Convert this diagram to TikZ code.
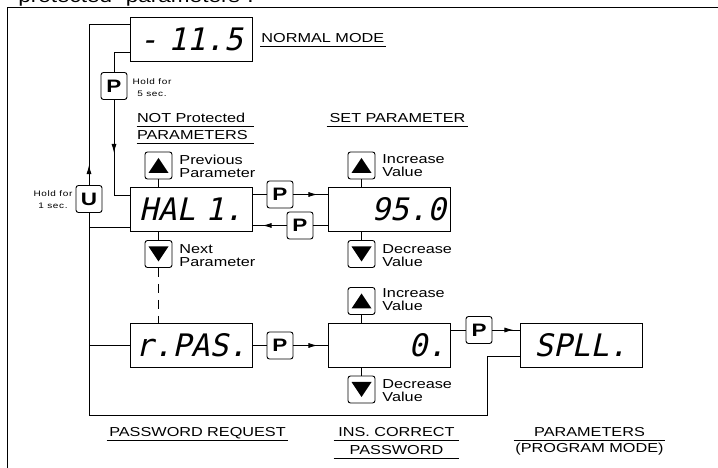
\documentclass[tikz,border=0pt]{standalone}
\usepackage{fontspec}
\setmainfont{Liberation Sans}[FakeStretch=1.25]
\newfontfamily\segfont{DejaVu Sans Mono}[FakeSlant=0.22]
\usetikzlibrary{arrows.meta,calc,decorations.markings}

\begin{document}
\begin{tikzpicture}[x=1pt,y=1pt,line width=0.9pt,
   every node/.style={font=\fontsize{13}{13}\selectfont,inner sep=0pt},
   disp/.style={draw,minimum height=44pt,text width=114pt,inner xsep=4pt,
     text height=23pt,text depth=0pt,align=center,
     font=\segfont\fontsize{31}{31}\selectfont},
   key/.style={draw,rounded corners=2.5pt,minimum width=26pt,minimum height=27pt,
     font=\fontsize{18}{18}\selectfont\bfseries},
   upkey/.style={draw,rounded corners=2.5pt,minimum size=27pt,
     path picture={\fill[sharp corners] ($(path picture bounding box.center)+(-10,-7.5)$)
       -- ++(20,0) -- ++(-10,15) -- cycle;}},
   downkey/.style={draw,rounded corners=2.5pt,minimum size=27pt,
     path picture={\fill[sharp corners] ($(path picture bounding box.center)+(-10,7.5)$)
       -- ++(20,0) -- ++(-10,-15) -- cycle;}},
   hint/.style={anchor=west,align=left},
   hold/.style={align=center,font=\fontsize{8}{12}\selectfont\addfontfeature{LetterSpace=8}},
   head/.style={anchor=base,text depth=3pt,align=center},
   arrowat/.style={postaction=decorate,decoration={markings,
     mark=at position #1 with {\arrow{Latex[length=9pt,width=5pt]}}}}]
  \useasboundingbox (0,0) rectangle (718,468);
  \node[anchor=base west,font=\fontsize{18}{18}\selectfont] (intro) at (18,465)
    {protected "parameters".};
  \draw (7,0) |- (718,461);

  \node[disp] (norm) at (191,429) {- 11.5};
  \node[disp] (hal) at (191,258.5) {HAL 1.};
  \node[disp,align=right] (setp) at (389,258.5) {95.0};
  \node[disp] (rpas) at (191,122.5) {r.PAS.};
  \node[disp,align=right] (ins) at (389,122.5) {0.};
  \node[disp] (spll) at (581,122.5) {SPLL.};

  \node[key] (p5) at (114,382) {P};
  \node[hold] (hold5) at (152,380) {Hold for\\5 sec.};
  \node[key] (u) at (89,269) {U};
  \node[hold] (hold1) at (53,268) {Hold for\\1 sec.};
  \node[key] (pfwd) at (280,273.5) {P};
  \node[key] (pback) at (300,242.5) {P};
  \node[key] (prpas) at (280,122.5) {P};
  \node[key] (pins) at (479,138) {P};

  \node[upkey] (prev) at (158.5,302.5) {};
  \node[downkey] (next) at (158.5,214) {};
  \node[upkey] (inc1) at (361.5,302.5) {};
  \node[downkey] (dec1) at (361.5,214) {};
  \node[upkey] (inc2) at (361.5,167) {};
  \node[downkey] (dec2) at (361.5,78.5) {};
  \node[hint] (prevtxt) at (179,302) {Previous\\Parameter};
  \node[hint] (nexttxt) at (179,212.5) {Next\\Parameter};
  \node[hint] (inc1txt) at (382,302) {Increase\\Value};
  \node[hint] (dec1txt) at (382,212) {Decrease\\Value};
  \node[hint] (inc2txt) at (382,168) {Increase\\Value};
  \node[hint] (dec2txt) at (382,77) {Decrease\\Value};

  \node[anchor=base west,text depth=3pt,inner xsep=1pt] (hnorm) at (260,425) {NORMAL MODE};
  \node[head,text width=117pt,align=left] (hnot) at (195.5,345) {NOT Protected};
  \node[head,text width=117pt,align=left] (hpar) at (195.5,328) {PARAMETERS};
  \node[head,text width=141pt] (hset) at (397.5,345) {SET PARAMETER};
  \node[head,text width=181pt] (hreq) at (197.5,31) {PASSWORD REQUEST};
  \node[head,text width=125pt] (hins) at (396.5,31) {INS. CORRECT};
  \node[head,text width=125pt] (hpwd) at (396.5,13) {PASSWORD};
  \node[head,text width=151pt] (hprg) at (589.5,31) {PARAMETERS};
  \node[anchor=base] (hmode) at (589.5,15) {(PROGRAM MODE)};
  \foreach \h in {hnorm,hnot,hpar,hset,hreq,hins,hpwd,hprg}
    \draw (\h.south west) -- (\h.south east);

  \coordinate (halin) at ([yshift=14.5]hal.west);
  \coordinate (halret) at ([yshift=-17.5]hal.west);
  \coordinate (insout) at ([yshift=15.5]ins.east);
  \coordinate (bend) at (487,53);
  \draw ([yshift=-13]norm.west) -| (p5.north);
  \draw[arrowat=53pt] (p5.south) |- (halin);
  \draw[arrowat=20pt] (u.north) |- ([yshift=15]norm.west);
  \draw (u.south) |- (bend) |- ([yshift=-10.5]spll.west);
  \draw (halret) -- (halret -| u);
  \draw (rpas.west) -- (rpas.west -| u);

  \draw (prev.south) -- (prev.south |- hal.north);
  \draw (next.north) -- (next.north |- hal.south);
  \draw[dash pattern=on 9pt off 7pt] (next.south) -- (next.south |- rpas.north);
  \draw (inc1.south) -- (inc1.south |- setp.north);
  \draw (dec1.north) -- (dec1.north |- setp.south);
  \draw (inc2.south) -- (inc2.south |- ins.north);
  \draw (dec2.north) -- (dec2.north |- ins.south);

  \draw (pfwd.west) -- (pfwd.west -| hal.east);
  \draw[arrowat=24pt] (pfwd.east) -- (pfwd.east -| setp.west);
  \draw (pback.east) -- (pback.east -| setp.west);
  \draw[arrowat=24pt] (pback.west) -- (pback.west -| hal.east);
  \draw (prpas.west) -- (prpas.west -| rpas.east);
  \draw[arrowat=24pt] (prpas.east) -- (prpas.east -| ins.west);
  \draw (pins.west) -- (pins.west |- insout) -- (insout);
  \draw[arrowat=21pt] (pins.east) -- (pins.east -| spll.west);
\end{tikzpicture}
\end{document}
